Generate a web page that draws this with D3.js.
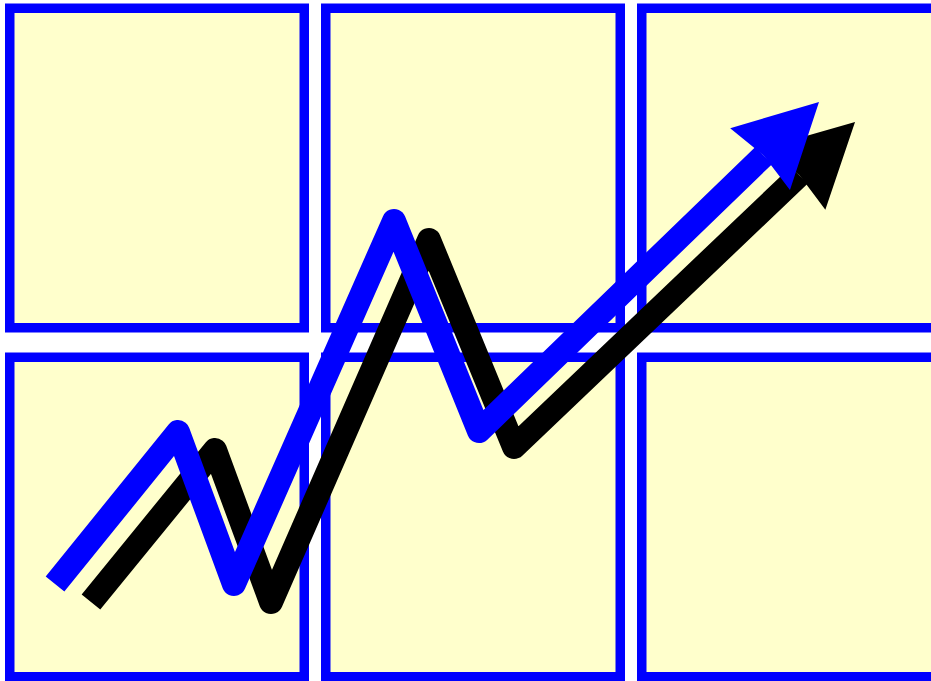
<!DOCTYPE html>
<html>
<head>
<meta charset="utf-8">
<script src="https://cdn.jsdelivr.net/npm/d3@7"></script>
<style>
  html, body { margin: 0; padding: 0; background: #ffffff; }
  svg { display: block; }
</style>
</head>
<body>
<script>
// ---- data ----
const gridColumns = [0, 1, 2];
const gridRows = [0, 1];

// series x positions (0-100 units) and values (0-100 units)
const blueX = [5.91, 19.12, 25.13, 42.32, 51.45, 87.97];
const blueY = [14.24, 36.56, 14.24, 67.55, 36.71, 85.02];
const blackX = [9.77, 23.09, 29.11, 46.08, 55.21, 91.84];
const blackY = [11.60, 33.92, 11.60, 64.76, 34.36, 82.09];

const W = 931, H = 681;
const svg = d3.select("body").append("svg").attr("width", W).attr("height", H);

// grid of cells
const colBand = d3.scaleBand().domain(gridColumns).range([5, 941]).paddingInner(12 / 316);
const rowBand = d3.scaleBand().domain(gridRows).range([3.5, 681.5]).paddingInner(20 / 349);
const bw = 9.5;
const cells = [];
gridRows.forEach(r => gridColumns.forEach(c => cells.push({ r, c })));
svg.append("g").selectAll("rect").data(cells).join("rect")
  .attr("x", d => colBand(d.c) + bw / 2)
  .attr("y", d => rowBand(d.r) + bw / 2)
  .attr("width", colBand.bandwidth() - bw)
  .attr("height", rowBand.bandwidth() - bw)
  .attr("fill", "#FFFFCC")
  .attr("stroke", "#0000FF")
  .attr("stroke-width", bw);

const x = d3.scaleLinear().domain([0, 100]).range([0, W]);
const y = d3.scaleLinear().domain([0, 100]).range([H, 0]);

function drawSeries(xs, ys, color) {
  const pts = xs.map((v, i) => [x(v), y(ys[i])]);
  const n = pts.length;
  const tip = pts[n - 1], prev = pts[n - 2];
  const dx = tip[0] - prev[0], dy = tip[1] - prev[1];
  const len = Math.hypot(dx, dy);
  const ux = dx / len, uy = dy / len;
  const vx = -uy, vy = ux;
  const L = 82, HW = 43, notch = 5;
  const base = [tip[0] - L * ux, tip[1] - L * uy];
  const notchPt = [tip[0] - (L - notch) * ux, tip[1] - (L - notch) * uy];
  const linePts = pts.slice(0, n - 1).concat([notchPt]);
  const g = svg.append("g");
  g.append("path")
    .attr("d", d3.line()(linePts))
    .attr("fill", "none")
    .attr("stroke", color)
    .attr("stroke-width", 24)
    .attr("stroke-linejoin", "round")
    .attr("stroke-linecap", "butt");
  const head = [
    tip,
    [base[0] + HW * vx, base[1] + HW * vy],
    notchPt,
    [base[0] - HW * vx, base[1] - HW * vy]
  ];
  g.append("path")
    .attr("d", d3.line()(head) + "Z")
    .attr("fill", color);
}

drawSeries(blackX, blackY, "#000000");
drawSeries(blueX, blueY, "#0000FF");
</script>
</body>
</html>
